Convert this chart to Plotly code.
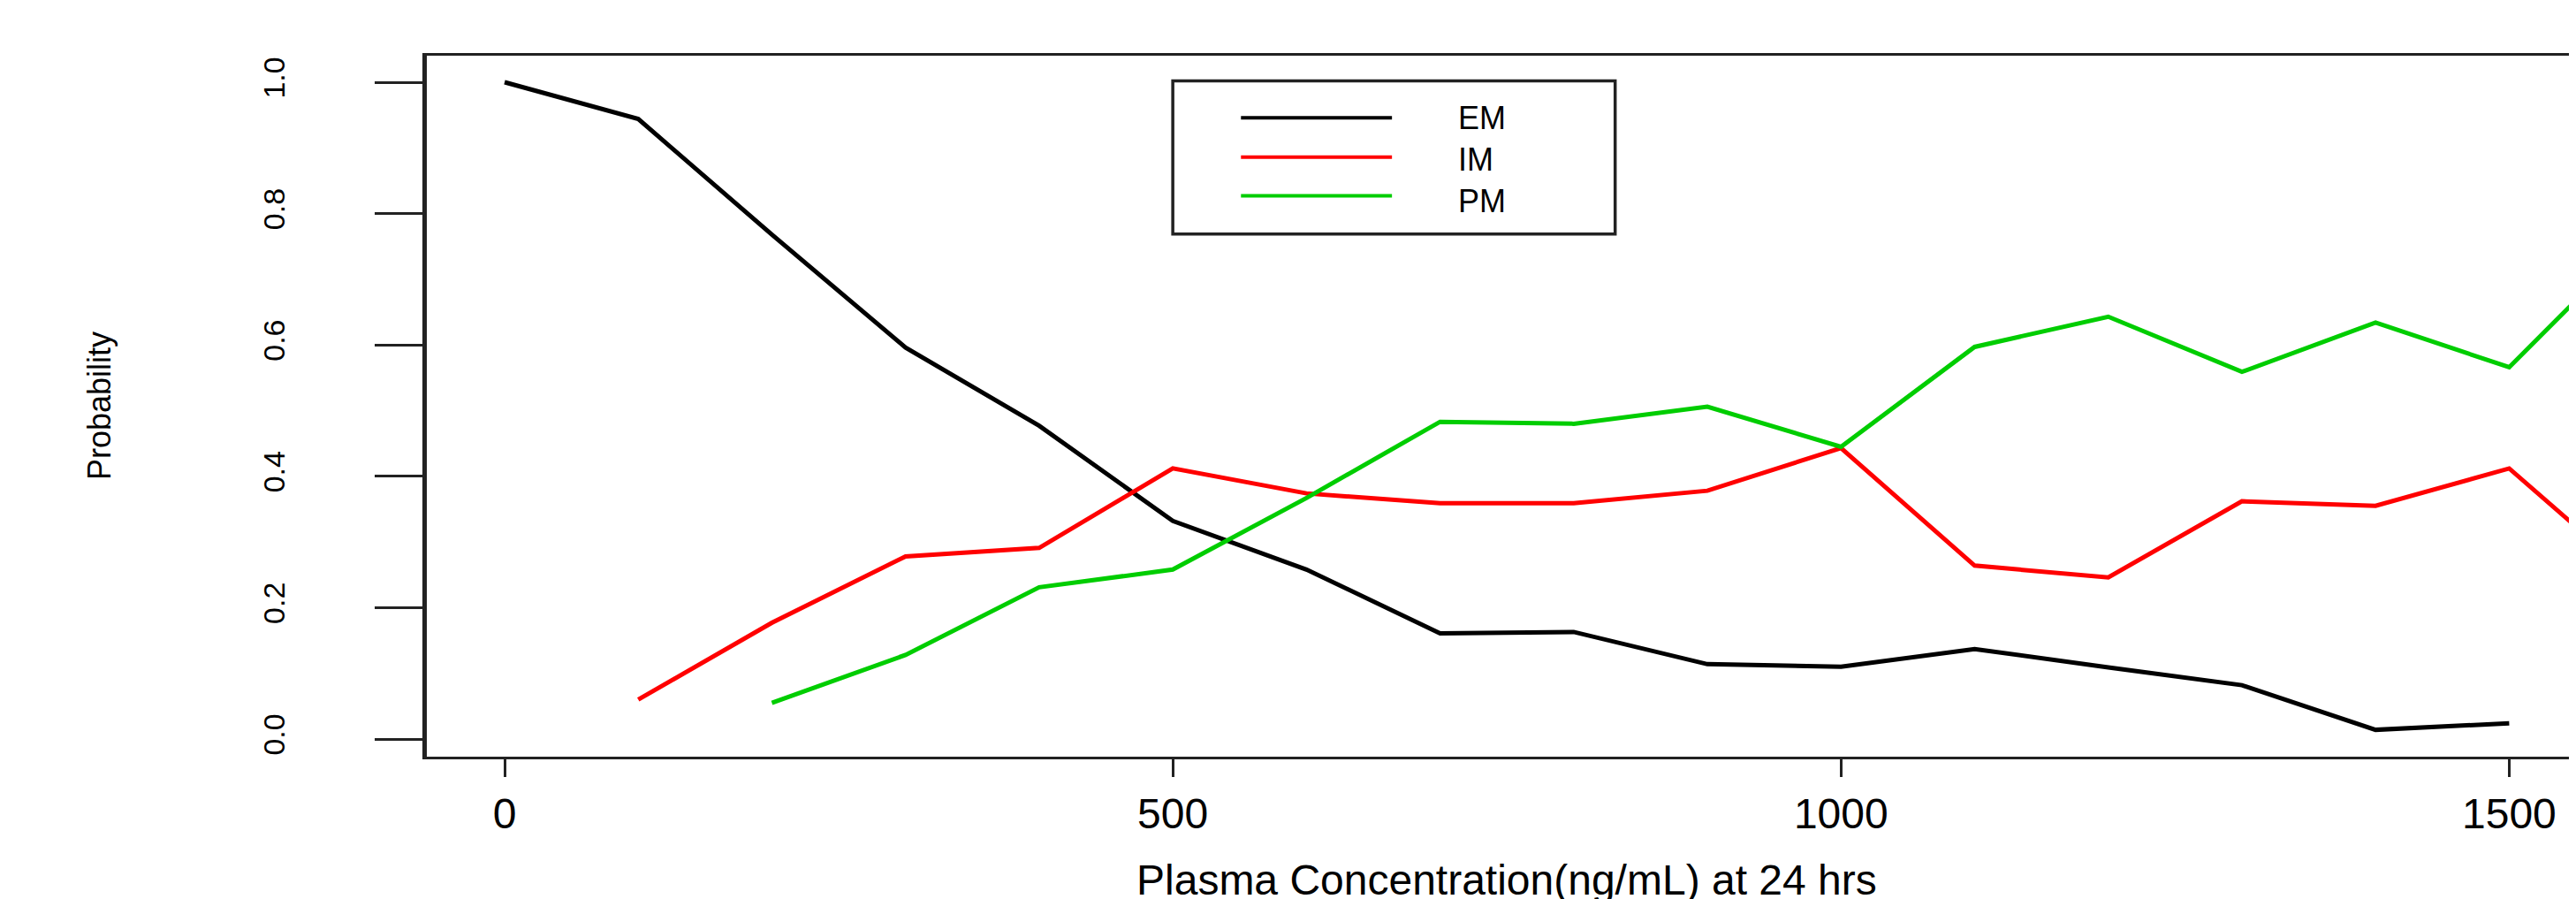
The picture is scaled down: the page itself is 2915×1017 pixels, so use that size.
import plotly.graph_objects as go

# ---- data ----
conc_em = [0, 100, 200, 300, 400, 500, 600, 700, 800, 900, 1000, 1100, 1200, 1300, 1400, 1500]
prob_em = [1.000, 0.944, 0.768, 0.596, 0.477, 0.332, 0.258, 0.161, 0.163, 0.114, 0.110, 0.137, 0.109, 0.082, 0.014, 0.024]

conc_im = [100, 200, 300, 400, 500, 600, 700, 800, 900, 1000, 1100, 1200, 1300, 1400, 1500, 1600]
prob_im = [0.060, 0.177, 0.278, 0.291, 0.412, 0.374, 0.359, 0.359, 0.378, 0.443, 0.264, 0.246, 0.362, 0.355, 0.412, 0.235]

conc_pm = [200, 300, 400, 500, 600, 700, 800, 900, 1000, 1100, 1200, 1300, 1400, 1500, 1600]
prob_pm = [0.055, 0.128, 0.231, 0.258, 0.367, 0.483, 0.480, 0.506, 0.445, 0.597, 0.643, 0.559, 0.634, 0.566, 0.770]

series_names = ["EM", "IM", "PM"]
series_colors = ["#000000", "#FF0000", "#00CD00"]

x_ticks = [0, 500, 1000, 1500]
x_tick_labels = ["0", "500", "1000", "1500"]
y_ticks = [0.0, 0.2, 0.4, 0.6, 0.8, 1.0]
y_tick_labels = ["0.0", "0.2", "0.4", "0.6", "0.8", "1.0"]

x_title = "Plasma Concentration(ng/mL) at 24 hrs"
y_title = "Probability"

FONT = "Liberation Sans, Arial, Helvetica, sans-serif"
AXC = "#222222"

fig = go.Figure()
for xs, ys, name, col in zip([conc_em, conc_im, conc_pm], [prob_em, prob_im, prob_pm],
                             series_names, series_colors):
    fig.add_trace(go.Scatter(x=xs, y=ys, mode="lines", name=name,
                             line=dict(color=col, width=5), showlegend=False))

# ---- legend drawn like R's legend(500, 1, ...) ----
leg_left, leg_right, leg_top, leg_bottom = 500, 831, 1.002, 0.769
leg_line_x0, leg_line_x1, leg_text_x = 551, 664, 712
leg_rows = [0.946, 0.886, 0.827]
fig.add_shape(type="rect", xref="x", yref="y", x0=leg_left, x1=leg_right,
              y0=leg_bottom, y1=leg_top, line=dict(color=AXC, width=3.5),
              fillcolor="white", layer="below")
for yv, col in zip(leg_rows, series_colors):
    fig.add_shape(type="line", xref="x", yref="y", x0=leg_line_x0, x1=leg_line_x1,
                  y0=yv, y1=yv, line=dict(color=col, width=4))
fig.add_annotation(x=leg_text_x, y=leg_rows[1] - 0.004, xref="x", yref="y",
                   text="<br>".join(series_names), align="left",
                   showarrow=False, xanchor="left", yanchor="middle",
                   font=dict(family=FONT, size=36, color="#000000"))

# axis titles
fig.add_annotation(x=750, y=-0.2118, xref="x", yref="paper", text=x_title,
                   showarrow=False, xanchor="center", yanchor="bottom",
                   font=dict(family=FONT, size=48, color="#000000"))
fig.add_annotation(x=-0.152, y=0.5, xref="paper", yref="paper", text=y_title,
                   showarrow=False, textangle=-90, xanchor="center", yanchor="middle",
                   font=dict(family=FONT, size=36, color="#000000"))

fig.update_layout(
    width=2915, height=1017,
    margin=dict(l=475, r=3, t=55, b=169),
    paper_bgcolor="white", plot_bgcolor="white",
    showlegend=False,
)
fig.update_xaxes(range=[-58.2, 1553.3], tickvals=x_ticks, ticktext=x_tick_labels,
                 showgrid=False, zeroline=False, showline=True, mirror=True,
                 linecolor=AXC, linewidth=3, ticks="outside", ticklen=20,
                 tickwidth=2.5, tickcolor=AXC, ticklabelstandoff=0, automargin=False,
                 tickfont=dict(family=FONT, size=48, color="#000000"))
fig.update_yaxes(range=[-0.0269, 1.0404], tickvals=y_ticks, ticktext=y_tick_labels,
                 showgrid=False, zeroline=False, showline=True, mirror=True,
                 linecolor=AXC, linewidth=5, ticks="outside", ticklen=54,
                 tickwidth=2.5, tickcolor=AXC, tickangle=-90, ticklabelstandoff=88,
                 automargin=False,
                 tickfont=dict(family=FONT, size=34, color="#000000"))

fig.write_html("out.html", config={"displayModeBar": False})
